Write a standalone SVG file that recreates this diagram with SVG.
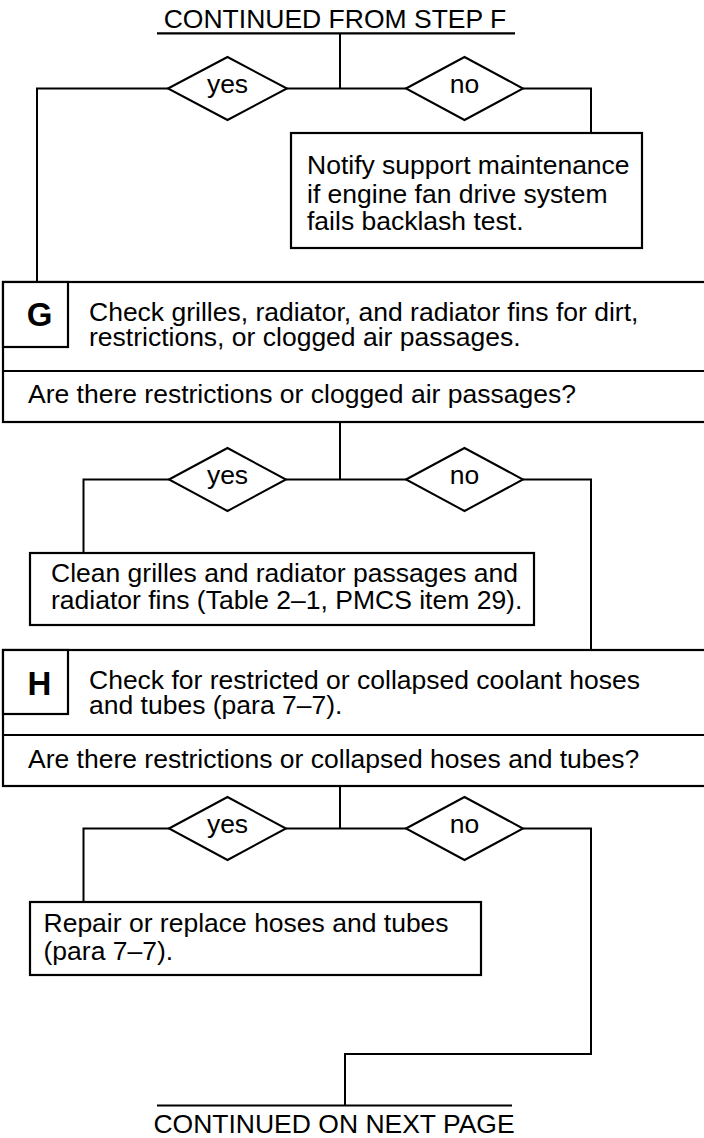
<svg xmlns="http://www.w3.org/2000/svg" width="704" height="1138" viewBox="0 0 704 1138">
  <style>
    .box { fill: #fff; stroke: #000; stroke-width: 2.2; }
    .dia { fill: #fff; stroke: #000; stroke-width: 2; }
    .wire { fill: none; stroke: #000; stroke-width: 2; }
    .rule { stroke: #000; stroke-width: 2.2; }
    text { font-family: "Liberation Sans", Arial, sans-serif; font-size: 26.5px; fill: #000; }
    .mid { text-anchor: middle; }
    .step { font-weight: bold; font-size: 33px; }
  </style>

  <!-- connectors -->
  <g id="connectors" class="wire">
    <path d="M340,33 V88.5"/>
    <path d="M168,88.5 H37 V282"/>
    <path d="M287,88.5 H406"/>
    <path d="M523,88.5 H591 V133"/>
    <path d="M340,422 V479.5"/>
    <path d="M169,479.5 H83.5 V553"/>
    <path d="M286,479.5 H406"/>
    <path d="M523,479.5 H591 V650"/>
    <path d="M340,786 V828.5"/>
    <path d="M169,828.5 H83.5 V902"/>
    <path d="M286,828.5 H406"/>
    <path d="M523,828.5 H591 V1054 H345 V1105"/>
  </g>

  <!-- entry point -->
  <g id="from-step-f">
    <text class="mid" x="335" y="28">CONTINUED FROM STEP F</text>
    <line class="rule" x1="157" y1="33.3" x2="515" y2="33.3"/>
  </g>

  <!-- first decision -->
  <g id="f-yes">
    <polygon class="dia" points="168,88.5 227.5,57 287,88.5 227.5,120"/>
    <text class="mid" x="227.5" y="93">yes</text>
  </g>
  <g id="f-no">
    <polygon class="dia" points="406,88.5 464.5,57 523,88.5 464.5,120"/>
    <text class="mid" x="464.5" y="93">no</text>
  </g>
  <g id="notify">
    <rect class="box" x="291" y="133" width="351" height="115"/>
    <text x="307" y="174">Notify support maintenance</text>
    <text x="307" y="202.5">if engine fan drive system</text>
    <text x="307" y="230">fails backlash test.</text>
  </g>

  <!-- step G -->
  <g id="step-g">
    <rect class="box" x="3" y="282" width="720" height="140"/>
    <rect class="box" x="3" y="282" width="65" height="65"/>
    <line class="rule" x1="3" y1="371" x2="710" y2="371"/>
    <text class="step mid" x="39.5" y="326">G</text>
    <text x="89" y="321">Check grilles, radiator, and radiator fins for dirt,</text>
    <text x="89" y="345.5">restrictions, or clogged air passages.</text>
    <text x="28" y="403">Are there restrictions or clogged air passages?</text>
  </g>
  <g id="g-yes">
    <polygon class="dia" points="169,479.5 227.5,448 286,479.5 227.5,511"/>
    <text class="mid" x="227.5" y="484">yes</text>
  </g>
  <g id="g-no">
    <polygon class="dia" points="406,479.5 464.5,448 523,479.5 464.5,511"/>
    <text class="mid" x="464.5" y="484">no</text>
  </g>
  <g id="clean">
    <rect class="box" x="30" y="553" width="504" height="72"/>
    <text x="51" y="582">Clean grilles and radiator passages and</text>
    <text x="51" y="609">radiator fins (Table 2–1, PMCS item 29).</text>
  </g>

  <!-- step H -->
  <g id="step-h">
    <rect class="box" x="3" y="650" width="720" height="136"/>
    <rect class="box" x="3" y="650" width="65" height="64"/>
    <line class="rule" x1="3" y1="735" x2="710" y2="735"/>
    <text class="step mid" x="39.5" y="695">H</text>
    <text x="89" y="689">Check for restricted or collapsed coolant hoses</text>
    <text x="89" y="714">and tubes (para 7–7).</text>
    <text x="28" y="768">Are there restrictions or collapsed hoses and tubes?</text>
  </g>
  <g id="h-yes">
    <polygon class="dia" points="169,828.5 227.5,797 286,828.5 227.5,860"/>
    <text class="mid" x="227.5" y="832.5">yes</text>
  </g>
  <g id="h-no">
    <polygon class="dia" points="406,828.5 464.5,797 523,828.5 464.5,860"/>
    <text class="mid" x="464.5" y="832.5">no</text>
  </g>
  <g id="repair">
    <rect class="box" x="30" y="902" width="451" height="73"/>
    <text x="43.5" y="931.5">Repair or replace hoses and tubes</text>
    <text x="43.5" y="960">(para 7–7).</text>
  </g>

  <!-- exit point -->
  <g id="next-page">
    <line class="rule" x1="157" y1="1105.5" x2="512" y2="1105.5"/>
    <text class="mid" x="334" y="1133">CONTINUED ON NEXT PAGE</text>
  </g>
</svg>
